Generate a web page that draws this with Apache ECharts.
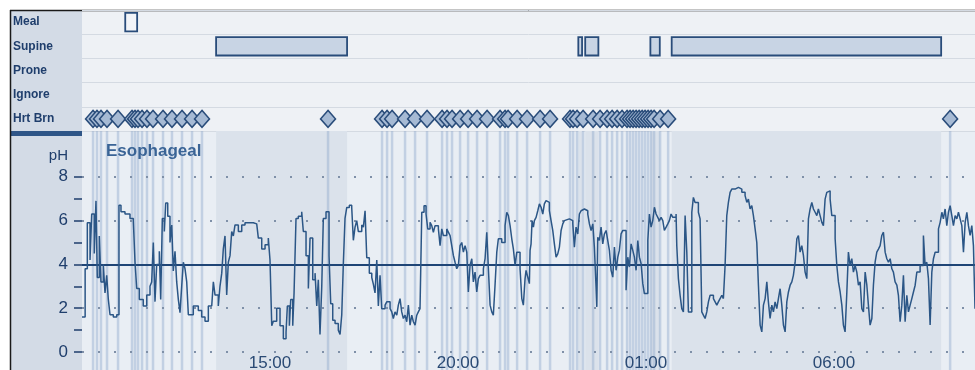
<!DOCTYPE html>
<html><head><meta charset="utf-8">
<script src="https://cdn.jsdelivr.net/npm/echarts@6/dist/echarts.min.js"></script>
<style>html,body{margin:0;padding:0;background:#fff}#c{width:975px;height:370px}</style>
</head><body><div id="c"></div>
<script>
// time unit: minutes after 10:00 (recording start)
const rowNames = ['Meal', 'Supine', 'Prone', 'Ignore', 'Hrt Brn'];
const mealPeriods = [[69, 88]];
const supinePeriods = [[214, 423], [792, 798], [803, 824], [907, 922], [941, 1371]];
const heartburnTimes = [17.6, 23.9, 30.3, 39.9, 57.5, 79.8, 84.6, 89.4, 95.8, 103.7, 113.3, 129.3, 143.6, 159.6, 175.6, 191.5,
  392.6,
  478.8, 486.8, 494.8, 515.5, 531.5, 550.6, 574.6, 582.5, 590.5, 603.3, 616.1, 630.4, 646.4, 667.1, 675.1, 679.9, 694.3, 710.2, 731, 746.9,
  778.8, 783.6, 790, 799.6, 815.6, 826.7, 837.9, 845.9, 853.9, 861.8, 869.8, 874.6, 879.4, 884.2, 889, 893.8, 898.5, 903.3, 908.1, 912.9, 922.5, 935.3,
  1385.3];
const timeLabelMinutes = [300, 600, 900, 1200];
const timeLabels = ['15:00', '20:00', '01:00', '06:00'];
const phLabelValues = [0, 2, 4, 6, 8];
const phTickValues = [0, 1, 2, 3, 4, 5, 6, 7, 8];
const phThreshold = 4;
const phGridValues = [0, 2, 6, 8];
// [minutes after 10:00, pH]
const phSamples = [
[0,1.6],[5,3.8],[8.5,5.9],[12.8,4.2],[15.5,6.3],[19.6,4.5],[22.3,6.9],[24.4,3.4],[27.6,5.3],[30.3,3.2],
[34,4.0],[36.7,2.7],[39.4,3.5],[42,2.4],[44.7,1.7],[50,1.6],[55.4,1.7],[59,6.7],[62.2,6.4],[68.6,6.3],
[76.6,6.1],[81.9,6.0],[84.6,4.1],[87.3,2.9],[91.5,2.4],[97.8,2.1],[103.3,2.6],[108.5,3.0],[111.2,3.2],[113.8,5.0],
[116.5,2.3],[119.2,4.0],[123.4,4.6],[125.6,2.4],[128.2,6.1],[131.4,5.5],[133.6,6.8],[136.8,6.2],[140.4,5.0],[143.2,5.8],
[145.7,3.7],[148.4,4.6],[151.1,3.2],[153.7,2.4],[156.4,1.8],[159.1,3.0],[161.7,4.1],[164.4,3.8],[167.1,3.2],[169.7,1.7],
[177.6,2.1],[185.6,1.9],[191,1.6],[196.3,1.4],[201.6,2.1],[207,2.1],[209.6,3.2],[212.3,2.6],[217.5,2.1],[220.2,3.0],
[223,3.6],[225.5,4.7],[228.2,5.3],[230.9,2.6],[233.5,4.1],[236.2,4.4],[238.9,5.5],[241.5,5.3],[244.2,5.8],[249.5,5.5],
[254.9,5.8],[260.1,5.9],[265.4,5.9],[273.4,5.85],[278.8,5.8],[281.4,5.2],[286.8,4.7],[292.1,4.9],[297.3,5.2],[300,4.2],
[302.8,1.2],[305.3,1.4],[310.7,2.0],[316,1.2],[321.3,0.6],[325.6,0.9],[327.7,2.1],[330.9,1.2],[333.1,2.4],[336.3,1.2],
[338.4,2.7],[341.5,6.1],[345.2,6.2],[350.6,6.4],[353.2,5.5],[357.5,4.4],[361.2,2.9],[363.9,5.2],[368.2,3.3],[371.9,3.6],
[374.6,2.1],[377.1,3.3],[379.8,0.8],[382.6,3.0],[385.1,6.1],[389.4,6.4],[394.2,4.4],[396.9,2.2],[400.1,1.45],[403.8,1.3],
[409,1.0],[411.8,0.8],[414.5,1.7],[417,4.0],[419.7,6.1],[422.5,6.6],[426.6,6.7],[430.4,6.6],[433,5.1],[435.7,5.7],
[438.4,6.0],[441,5.5],[446.4,5.8],[449,5.7],[451.7,6.45],[454.4,4.3],[458.5,3.6],[462.4,3.4],[464.9,3.1],[467.6,2.7],
[470.4,4.2],[472.9,2.1],[475.6,3.5],[478.3,1.98],[483.6,2.14],[486.3,2.29],[491.6,1.98],[494.3,1.83],[496.8,1.53],[499.5,1.83],
[502.3,1.68],[504.8,2.14],[507.5,2.44],[510.2,1.83],[512.8,1.53],[515.5,1.68],[518.2,1.38],[520.8,2.14],[523.5,1.23],[526.2,1.68],
[528.8,1.38],[531.5,1.23],[534.2,1.68],[536.7,1.83],[539.4,1.98],[542.2,6.38],[545.8,6.68],[549,6.3],[551.7,5.62],[555.4,5.92],
[558.1,5.77],[560.7,5.47],[563.4,5.77],[568.7,5.62],[571.4,4.86],[574.1,5.62],[576.6,5.32],[582.1,5.62],[584.6,5.47],[587.3,5.32],
[590,4.86],[592.6,4.41],[595.3,4.1],[598,3.8],[600.6,3.95],[603.3,4.86],[606,5.0],[608.6,4.56],[611.3,4.86],[614,4.56],
[616.5,2.74],[619.2,3.95],[622,4.26],[624.5,3.2],[627.2,3.65],[629.9,2.74],[632.5,3.35],[635.2,3.5],[640.5,3.8],[643.2,4.26],
[645.9,5.47],[648.5,3.8],[651.2,2.14],[653.9,1.83],[656.4,1.68],[659.1,3.05],[661.9,4.56],[664.4,5.17],[669.8,5.0],[675.1,5.77],
[677.8,6.38],[680.4,6.23],[683.1,5.77],[685.8,5.17],[688.4,4.7],[691.1,3.95],[693.8,4.56],[699,3.8],[701.8,2.44],[704.3,2.14],
[707,3.35],[708.6,3.73],[711.3,3.42],[713.9,3.12],[715,4.64],[716.6,4.94],[718.2,6.0],[720.3,5.7],[721.9,6.0],[724.6,6.15],
[727.3,6.45],[729.9,6.76],[732.6,6.61],[735.3,6.3],[737.8,6.76],[740.5,6.91],[743.3,6.83],[745.8,6.45],[748.5,6.0],[751.2,5.55],
[753.8,4.94],[756.5,4.33],[759.2,4.48],[761.8,4.79],[764.5,5.55],[767.2,5.85],[769.7,6.0],[772.5,6.08],[777.7,6.15],[780.4,6.0],
[783.2,5.85],[785.7,4.79],[788.4,5.7],[791.1,5.39],[793.7,6.3],[796.4,6.45],[799.1,6.53],[801.7,6.45],[807.1,6.3],[809.7,5.85],
[812.4,5.55],[815.1,5.85],[817.6,4.79],[820.3,2.97],[821.5,2.06],[823,5.24],[825.6,5.09],[828.3,5.7],[831,4.94],[833.6,5.39],
[836.3,5.55],[839,5.09],[841.6,4.64],[844.3,3.73],[847,3.42],[849.6,4.79],[852.3,3.73],[855,4.33],[857.5,4.64],[860.2,5.39],
[863,5.55],[868.2,2.82],[870.9,4.33],[873.5,3.88],[876.2,4.94],[878.9,4.64],[881.5,4.33],[884.2,3.73],[886.9,5.09],[889.5,4.33],
[892.2,4.03],[894.9,3.12],[897.4,2.67],[902.9,5.09],[905.4,6.3],[908.1,5.7],[910.8,6.0],[913.4,6.61],[916.1,6.3],[918.8,6.15],
[921.4,6.0],[924.1,6.15],[926.8,6.0],[929.3,5.55],[932.1,5.7],[934.8,5.85],[937.3,6.0],[940,6.3],[942.8,6.15],[948,6.3],
[949.1,4.86],[951.7,3.35],[954.4,2.59],[957.1,1.98],[959.7,1.83],[962.4,6.23],[965.1,4.56],[967.7,1.83],[970.4,1.83],[973.1,6.38],
[975.6,7.06],[978.3,6.83],[981,6.83],[983.6,6.38],[986.3,6.08],[989,1.83],[991.6,1.68],[994.3,1.53],[997,1.83],[999.6,2.29],
[1002.3,2.59],[1007.6,2.44],[1010.3,2.29],[1013,2.14],[1015.5,2.29],[1018.2,2.44],[1021,2.59],[1023.5,2.44],[1026.2,3.95],[1028.9,6.23],
[1031.5,6.83],[1034.2,7.29],[1036.9,7.44],[1042.2,7.52],[1047.5,7.44],[1052.9,7.29],[1058.1,7.14],[1060.9,6.83],[1063.4,6.98],[1066.1,6.53],
[1068.8,6.68],[1071.4,6.23],[1074.1,5.62],[1076.8,5.0],[1079.4,3.05],[1082.1,1.23],[1084.8,0.92],[1087.4,2.14],[1090.1,2.44],[1092.8,3.2],
[1095.3,2.29],[1098,1.53],[1100.8,2.14],[1103.3,1.83],[1106,2.29],[1108.7,1.98],[1111.3,2.44],[1114,2.89],[1116.7,2.14],[1119.3,1.23],
[1122,0.92],[1124.7,2.29],[1127.3,2.74],[1130,3.05],[1132.7,3.2],[1135.2,3.5],[1138,4.1],[1140.7,5.17],[1143.2,5.32],[1145.9,4.56],
[1148.6,4.86],[1151.2,4.41],[1153.9,3.65],[1156.6,3.35],[1159.2,6.08],[1161.9,6.53],[1164.6,6.83],[1167.2,6.53],[1169.9,6.38],[1172.6,6.23],
[1175.1,6.53],[1177.8,6.23],[1180.6,5.92],[1183.1,5.77],[1185.8,6.98],[1188.5,7.29],[1191.1,7.36],[1193.8,6.98],[1196.5,6.23],[1201.8,5.17],
[1204.5,3.95],[1207.1,3.2],[1209.8,2.74],[1212.5,2.14],[1215,1.23],[1217.7,0.92],[1220.5,2.74],[1223,4.56],[1225.7,3.95],[1228.4,4.26],
[1231,3.65],[1233.7,3.95],[1236.4,3.65],[1239,3.05],[1241.7,3.2],[1244.4,1.98],[1247,1.83],[1249.7,3.65],[1252.4,3.05],[1254.9,2.14],
[1257.6,1.23],[1260.4,1.53],[1262.9,3.05],[1265.6,4.1],[1268.3,4.56],[1270.9,4.7],[1273.6,4.86],[1276.3,5.32],[1278.9,5.47],[1281.6,4.56],
[1284.3,4.26],[1286.9,4.1],[1289.6,4.26],[1292.3,3.8],[1294.8,3.65],[1297.5,3.2],[1300.3,3.05],[1302.8,2.59],[1305.5,1.38],[1308.2,2.14],
[1310.8,3.5],[1313.5,1.38],[1316.2,2.59],[1318.8,1.83],[1321.5,2.14],[1324.2,2.44],[1326.8,2.74],[1329.5,3.05],[1332.2,3.65],[1337.4,3.95],
[1342.7,5.32],[1345.4,3.95],[1348.1,4.1],[1350.7,3.35],[1353.4,1.23],[1356.1,3.65],[1358.7,4.26],[1361.4,4.56],[1366.7,5.62],[1369.4,5.92],
[1372.1,6.38],[1374.6,6.08],[1377.3,6.53],[1380,5.77],[1382.6,6.38],[1385.3,6.68],[1388,6.23],[1390.6,5.77],[1393.3,6.23],[1396,6.08],
[1398.6,6.38],[1401.3,6.08],[1404,5.77],[1406.6,4.56],[1409.3,5.92],[1412,6.38],[1414.5,5.77],[1417.2,5.32],[1419.9,5.77],[1422.5,4.86],
[1425,1.98]
];
const timeMin = 0, timeMax = 1425;

const navy = '#1f3e6c';
const font = 'Liberation Sans, Arial, sans-serif';
const chart = echarts.init(document.getElementById('c'));

const hiddenX = (gi) => ({type: 'value', gridIndex: gi, min: timeMin, max: timeMax, show: false});
const option = {
  animation: false,
  backgroundColor: '#ffffff',
  textStyle: {fontFamily: font},
  grid: [
    {left: 82, right: 0, top: 10, height: 121, show: true, backgroundColor: '#eef1f5', borderWidth: 0, outerBoundsMode: 'none'},
    {left: 82, right: 0, top: 131, bottom: 0, show: true, backgroundColor: '#e9eef4', borderWidth: 0, outerBoundsMode: 'none'},
    {left: 82, right: 0, top: 133, bottom: 18, show: false, outerBoundsMode: 'none'},
    {left: 10, top: 10, width: 72, height: 360, show: true, backgroundColor: '#d3dbe6', borderWidth: 0, outerBoundsMode: 'none'}
  ],
  xAxis: [
    hiddenX(0), hiddenX(1),
    {type: 'value', gridIndex: 2, min: timeMin, max: timeMax, z: 20,
     axisLine: {show: false}, axisTick: {show: false}, splitLine: {show: false},
     axisLabel: {customValues: timeLabelMinutes, margin: 3, fontSize: 17, color: '#2a4a74', fontFamily: font,
       formatter: v => { const i = timeLabelMinutes.indexOf(v); return i >= 0 ? timeLabels[i] : ''; }}},
    {type: 'value', gridIndex: 3, min: 0, max: 1, show: false}
  ],
  yAxis: [
    {type: 'category', gridIndex: 0, data: rowNames, inverse: true,
     axisLine: {show: false}, axisTick: {show: false},
     splitLine: {show: true, lineStyle: {color: '#d4dae2', width: 1}},
     axisLabel: {align: 'left', margin: 69, fontSize: 12, fontWeight: 'bold', color: navy, fontFamily: font}},
    {type: 'value', gridIndex: 1, min: 0, max: 1, show: false},
    {type: 'value', gridIndex: 2, min: 0, max: 10, z: 20,
     axisLine: {show: false}, splitLine: {show: false},
     axisTick: {show: true, customValues: phTickValues, length: 8, lineStyle: {color: navy, width: 1.5}},
     axisLabel: {customValues: phLabelValues, margin: 14, fontSize: 17, color: navy, fontFamily: font}},
    {type: 'value', gridIndex: 3, min: 0, max: 1, show: false}
  ],
  series: [
    // supine shading in pH panel
    {type: 'custom', xAxisIndex: 1, yAxisIndex: 1, silent: true, z: 1,
     data: supinePeriods.map(p => [p[0], p[1], 0]), encode: {x: [0, 1], y: 2},
     renderItem: (params, api) => {
       const a = api.coord([api.value(0), 1]);
       const b = api.coord([api.value(1), 0]);
       return {type: 'rect', shape: {x: a[0], y: a[1], width: b[0] - a[0], height: b[1] - a[1]}, style: {fill: '#dbe2eb'}};
     }},
    // heartburn event lines in pH panel
    {type: 'custom', xAxisIndex: 1, yAxisIndex: 1, silent: true, z: 2,
     data: heartburnTimes.map(t => [t, 0]), encode: {x: 0, y: 1},
     renderItem: (params, api) => {
       const a = api.coord([api.value(0), 1]);
       const b = api.coord([api.value(0), 0]);
       return {type: 'line', shape: {x1: a[0], y1: a[1], x2: b[0], y2: b[1]}, style: {stroke: 'rgba(140,166,202,0.42)', lineWidth: 2.5}};
     }},
    // meal / supine boxes
    {type: 'custom', xAxisIndex: 0, yAxisIndex: 0, silent: true, z: 3,
     data: mealPeriods.map(p => [p[0], p[1], 0, 0]).concat(supinePeriods.map(p => [p[0], p[1], 1, 1])),
     encode: {x: [0, 1], y: 2},
     renderItem: (params, api) => {
       const s = api.coord([api.value(0), api.value(2)]);
       const e = api.coord([api.value(1), api.value(2)]);
       const h = api.size([0, 1])[1] * 0.76;
       const meal = api.value(3) === 0;
       return {type: 'rect', shape: {x: s[0], y: s[1] - h / 2, width: e[0] - s[0], height: h},
         style: {fill: meal ? '#f2f4f8' : '#c8d4e4', stroke: '#294c7a', lineWidth: 1.8}};
     }},
    // heartburn diamonds
    {type: 'scatter', xAxisIndex: 0, yAxisIndex: 0, silent: true, z: 4,
     data: heartburnTimes.map(t => [t, 'Hrt Brn']),
     symbol: 'diamond', symbolSize: [15, 17],
     itemStyle: {color: '#a6bad4', borderColor: '#294c7a', borderWidth: 1.5, opacity: 1}},
    // pH trace
    {type: 'line', xAxisIndex: 2, yAxisIndex: 2, z: 5, silent: true,
     data: phSamples, step: 'end', showSymbol: false, symbol: 'none',
     lineStyle: {color: '#2b5686', width: 1.5},
     markLine: {silent: true, symbol: 'none', label: {show: false},
       data: phGridValues.map(v => ({yAxis: v, lineStyle: {type: [2, 14], color: '#7f90a8', width: 2}}))
         .concat([{yAxis: phThreshold, lineStyle: {type: 'solid', color: '#1f4576', width: 2}}])}}
  ],
  graphic: [
    {type: 'rect', shape: {x: 10, y: 131, width: 72, height: 5}, style: {fill: '#2e5587'}},
    {type: 'line', shape: {x1: 10, y1: 10.5, x2: 975, y2: 10.5}, style: {stroke: '#1a1a1a', lineWidth: 1.5}},
    {type: 'line', shape: {x1: 10.5, y1: 10, x2: 10.5, y2: 370}, style: {stroke: '#1a1a1a', lineWidth: 1.5}},
    {type: 'text', x: 68, y: 156, style: {text: 'pH', textAlign: 'right', textVerticalAlign: 'middle', align: 'right', verticalAlign: 'middle', fontSize: 15, fontFamily: font, fill: navy}},
    {type: 'text', x: 106, y: 151, z: 100, style: {text: 'Esophageal', textVerticalAlign: 'middle', verticalAlign: 'middle', fontSize: 17, fontWeight: 'bold', fontFamily: font, fill: '#3a6496'}}
  ]
};
chart.setOption(option);
</script>
</body></html>
